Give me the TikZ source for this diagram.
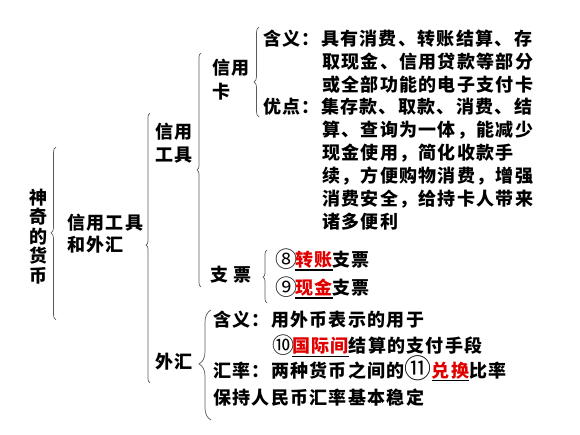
\documentclass[tikz,border=0pt]{standalone}
\usepackage{fontspec}
\newfontfamily\cjk{Noto Sans CJK SC}[LetterSpace=7.2]
\newfontfamily\cjknum{Noto Sans CJK SC}
\usetikzlibrary{decorations.pathreplacing}
\definecolor{ansred}{RGB}{225,0,0}
\definecolor{bracegray}{RGB}{90,90,90}
\newcommand\ansul[1]{\setbox0\hbox{#1}\rlap{\rule[-4pt]{\wd0}{1.3pt}}\box0}
\newcommand\ans[1]{\ansul{\textcolor{ansred}{#1}}}
\newcommand\cnum[3]{\makebox[#1][l]{\raisebox{-1pt}{\cjknum\mdseries\fontsize{#2}{19}\selectfont #3}}}
\begin{document}
\begin{tikzpicture}[x=1pt,y=-1pt,
  txt/.style={anchor=base west, inner sep=0pt, font=\cjk\bfseries\fontsize{18}{19}\selectfont},
  vtxt/.style={anchor=center, inner sep=0pt, align=center, font=\cjk\bfseries\fontsize{18}{19.4}\selectfont},
  br/.style n args={2}{draw=bracegray, line width=0.7pt, decorate,
     decoration={brace, amplitude=#1, aspect=#2}}]
\useasboundingbox (0,0) rectangle (580,435);
% level 1
\node[vtxt] (root) at (38,236.5) {神\\奇\\的\\货\\币};
\coordinate (b1t) at (56,147); \coordinate (b1b) at (56,320);
\draw[br={5pt}{0.503}] (b1b) -- (b1t);
% level 2
\node[txt] (l2a) at (67,229.3) {信用工具};
\node[txt] (l2b) at (67,251.3) {和外汇};
\coordinate (b2t) at (150,113); \coordinate (b2b) at (150,383);
\draw[br={4pt}{0.511}] (b2b) -- (b2t);
% level 3
\node[txt] (xa) at (155,138.3) {信用};
\node[txt] (xb) at (155,161.8) {工具};
\node[txt] (wh) at (155,368.8) {外汇};
\coordinate (b3t) at (201,53); \coordinate (b3b) at (201,287);
\draw[br={4pt}{0.5}] (b3b) -- (b3t);
\coordinate (b4t) at (211,310); \coordinate (b4b) at (211,420);
\draw[br={12pt}{0.51}] (b4b) -- (b4t);
% level 4
\node[txt] (ka) at (212,74.3) {信用};
\node[txt] (kb) at (212,98.3) {卡};
\node[txt] (zp) at (210,281.8) {支\hspace{5pt}票};
\coordinate (b5t) at (259,27); \coordinate (b5b) at (259,117);
\draw[br={5pt}{0.39}] (b5b) -- (b5t);
\coordinate (b6t) at (267,250); \coordinate (b6b) at (267,303);
\draw[br={4pt}{0.49}] (b6b) -- (b6t);
% credit card content
\node[txt] (c1) at (263,45.8) {含义：具有消费、转账结算、存};
\node[txt] (c2) at (322,68.8) {取现金、信用贷款等部分};
\node[txt] (c3) at (322,91.8) {或全部功能的电子支付卡};
\node[txt] (c4) at (263,113.8) {优点：集存款、取款、消费、结};
\node[txt] (c5) at (322,136.8) {算、查询为一体，能减少};
\node[txt] (c6) at (322,159.8) {现金使用，简化收款手};
\node[txt] (c7) at (322,182.8) {续，方便购物消费，增强};
\node[txt] (c8) at (322,205.8) {消费安全，给持卡人带来};
\node[txt] (c9) at (322,228.8) {诸多便利};
% cheque content
\node[txt] (z1) at (275,266.8) {\cnum{20pt}{22}{⑧}\ans{转账}支票};
\node[txt] (z2) at (275,294.8) {\cnum{20pt}{22}{⑨}\ans{现金}支票};
% foreign exchange content
\node[txt] (w1) at (213,326.3) {含义：用外币表示的用于};
\node[txt] (w2) at (272,352.8) {\cnum{20pt}{22}{⑩}\ans{国际间}结算的支付手段};
\node[txt] (w3) at (213,377.3) {汇率：两种货币之间的\cnum{27pt}{27}{⑪}\ans{兑换}比率};
\node[txt] (w4) at (213,404.8) {保持人民币汇率基本稳定};
\end{tikzpicture}
\end{document}
